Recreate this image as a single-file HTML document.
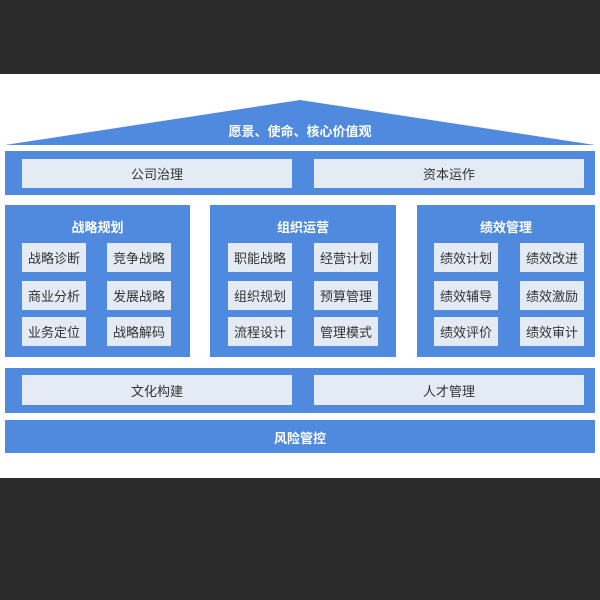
<!DOCTYPE html>
<html><head><meta charset="utf-8"><style>
body{margin:0;width:600px;height:600px;background:#2a2a2a;position:relative;overflow:hidden;font-family:"Liberation Sans","Noto Sans CJK SC",sans-serif}
.w{position:absolute;left:0;top:74px;width:600px;height:404px;background:#fff}
.b{position:absolute;background:#4f8ade}
.l{position:absolute;background:#e4ebf5;color:#333;font-size:13px;display:flex;align-items:center;justify-content:center}
.t{position:absolute;color:#fff;font-size:13px;font-weight:bold;text-align:center}
</style></head><body>
<div class="w"></div>
<svg style="position:absolute;left:0;top:0" width="600" height="600"><polygon points="5,145 300,100 595,145" fill="#4f8ade"/></svg>
<div class="t" style="left:0;width:600px;top:121px">愿景、使命、核心价值观</div>
<div class="b" style="left:5px;top:151px;width:590px;height:44px"></div>
<div class="l" style="left:22px;top:159px;width:270px;height:29px">公司治理</div>
<div class="l" style="left:314px;top:159px;width:270px;height:29px">资本运作</div>

<div class="b" style="left:5px;top:205px;width:185px;height:152px"></div>
<div class="b" style="left:210px;top:205px;width:186px;height:152px"></div>
<div class="b" style="left:417px;top:205px;width:178px;height:152px"></div>
<div class="t" style="left:5px;width:185px;top:217px">战略规划</div>
<div class="t" style="left:210px;width:186px;top:217px">组织运营</div>
<div class="t" style="left:417px;width:178px;top:217px">绩效管理</div>

<div class="l" style="left:22px;top:243px;width:64px;height:29px">战略诊断</div>
<div class="l" style="left:107px;top:243px;width:64px;height:29px">竞争战略</div>
<div class="l" style="left:22px;top:281px;width:64px;height:29px">商业分析</div>
<div class="l" style="left:107px;top:281px;width:64px;height:29px">发展战略</div>
<div class="l" style="left:22px;top:317px;width:64px;height:29px">业务定位</div>
<div class="l" style="left:107px;top:317px;width:64px;height:29px">战略解码</div>

<div class="l" style="left:228px;top:243px;width:64px;height:29px">职能战略</div>
<div class="l" style="left:314px;top:243px;width:64px;height:29px">经营计划</div>
<div class="l" style="left:228px;top:281px;width:64px;height:29px">组织规划</div>
<div class="l" style="left:314px;top:281px;width:64px;height:29px">预算管理</div>
<div class="l" style="left:228px;top:317px;width:64px;height:29px">流程设计</div>
<div class="l" style="left:314px;top:317px;width:64px;height:29px">管理模式</div>

<div class="l" style="left:434px;top:243px;width:64px;height:29px">绩效计划</div>
<div class="l" style="left:520px;top:243px;width:64px;height:29px">绩效改进</div>
<div class="l" style="left:434px;top:281px;width:64px;height:29px">绩效辅导</div>
<div class="l" style="left:520px;top:281px;width:64px;height:29px">绩效激励</div>
<div class="l" style="left:434px;top:317px;width:64px;height:29px">绩效评价</div>
<div class="l" style="left:520px;top:317px;width:64px;height:29px">绩效审计</div>

<div class="b" style="left:5px;top:368px;width:590px;height:45px"></div>
<div class="l" style="left:22px;top:375px;width:270px;height:30px">文化构建</div>
<div class="l" style="left:314px;top:375px;width:270px;height:30px">人才管理</div>
<div class="b" style="left:5px;top:420px;width:590px;height:33px"></div>
<div class="t" style="left:0;width:600px;top:428px">风险管控</div>
</body></html>
